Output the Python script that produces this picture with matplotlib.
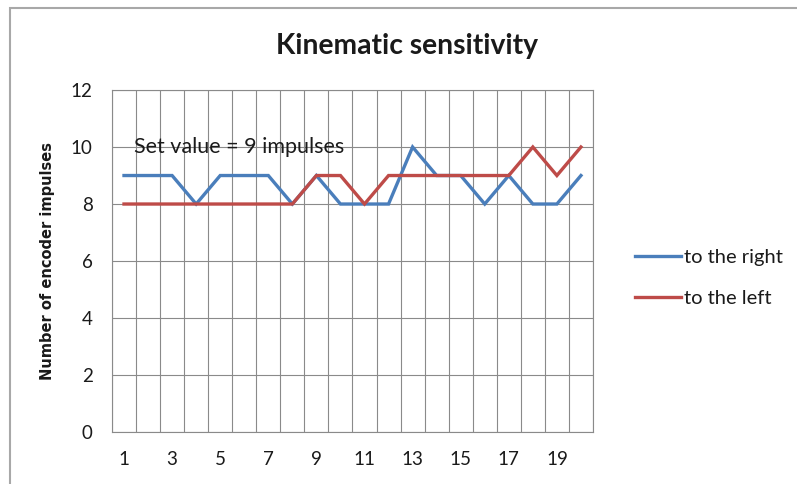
import numpy as np
import matplotlib
matplotlib.use('Agg')
import matplotlib.pyplot as plt
from matplotlib.patches import Rectangle

# measurement number 1..20
runs = list(range(1, 21))
to_the_right = [9, 9, 9, 8, 9, 9, 9, 8, 9, 8, 8, 8, 10, 9, 9, 8, 9, 8, 8, 9]
to_the_left = [8, 8, 8, 8, 8, 8, 8, 8, 9, 9, 8, 9, 9, 9, 9, 9, 9, 10, 9, 10]
x_labels = [1, 3, 5, 7, 9, 11, 13, 15, 17, 19]
y_ticks = [0, 2, 4, 6, 8, 10, 12]

plt.rcParams['font.family'] = ['Lato', 'DejaVu Sans']

fig = plt.figure(figsize=(7.97, 4.84), dpi=100)
ax = fig.add_axes([0.1405, 0.1074, 0.6035, 0.7066])

grid_col = '#8a8a8a'
txt_col = '#1a1a1a'
ax.plot(runs, to_the_right, color='#4A7EBB', lw=2.4, label='to the right', solid_joinstyle='miter')
ax.plot(runs, to_the_left, color='#BE4B48', lw=2.4, label='to the left', solid_joinstyle='miter')

ax.set_xlim(0.5, 20.5)
ax.set_ylim(0, 12)
ax.set_yticks(y_ticks)
ax.set_xticks(x_labels)
ax.set_xticks(np.arange(0.5, 21, 1), minor=True)
ax.grid(True, which='minor', axis='x', color=grid_col, lw=0.8)
ax.grid(True, which='major', axis='y', color=grid_col, lw=0.8)
ax.set_axisbelow(True)
ax.tick_params(axis='both', which='both', length=0, labelsize=13.5, labelcolor=txt_col)
ax.tick_params(axis='y', pad=14)
ax.tick_params(axis='x', pad=14)
for s in ax.spines.values():
    s.set_color(grid_col)
    s.set_linewidth(0.8)

ax.set_ylabel('Number of encoder impulses', family='DejaVu Sans', fontweight='bold',
              fontsize=10.5, labelpad=11, color=txt_col)
fig.text(0.511, 0.905, 'Kinematic sensitivity', ha='center', va='center', fontsize=20.3,
         fontweight='bold', color=txt_col)
ax.text(1.42, 10, 'Set value = 9 impulses', ha='left', va='center', fontsize=15.5, color=txt_col)

leg = ax.legend(loc='center left', bbox_to_anchor=(1.05, 0.45), frameon=False, fontsize=14.5,
                handlelength=2.3, handletextpad=0.15, labelspacing=1.2)
for t in leg.get_texts():
    t.set_color(txt_col)

fig.patches.append(Rectangle((10 / 797, -0.1), 1.1, 1.1 - 8 / 484, transform=fig.transFigure,
                             fill=False, edgecolor='#a8a8a8', lw=1.5))

fig.savefig('out.png', dpi=100)
